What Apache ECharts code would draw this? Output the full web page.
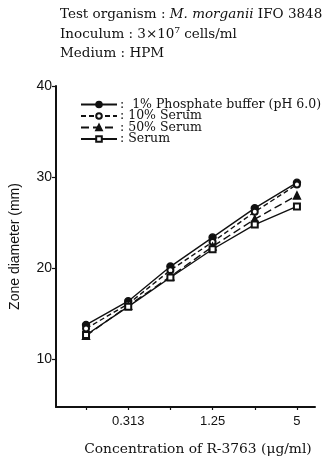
<!DOCTYPE html>
<html>
<head>
<meta charset="utf-8">
<script src="https://cdn.jsdelivr.net/npm/echarts@6/dist/echarts.min.js"></script>
<style>
  html, body { margin: 0; padding: 0; background: #fff; }
  #chart { width: 333px; height: 461px; }
</style>
</head>
<body>
<div id="chart"></div>
<script>
// Two-fold dilution series of R-3763 (μg/ml)
const concentrations = [0.15625, 0.3125, 0.625, 1.25, 2.5, 5];
const labeledConcentrations = [0.3125, 1.25, 5];
const tickLabels = ['0.313', '1.25', '5'];

// Zone diameters (mm) for each medium supplement
const phosphateBuffer = [13.8, 16.4, 20.2, 23.4, 26.6, 29.4];
const serum10 = [13.4, 16.1, 19.8, 22.9, 26.2, 29.2];
const serum50 = [12.6, 15.9, 19.1, 22.4, 25.4, 28.0];
const serumOnly = [12.7, 15.8, 19.0, 22.1, 24.8, 26.8];

const seriesNames = ['1% Phosphate buffer (pH 6.0)', '10% Serum', '50% Serum', 'Serum'];
const legendLabels = [':  1% Phosphate buffer (pH 6.0)', ': 10% Serum', ': 50% Serum', ': Serum'];
const yTicks = [10, 20, 30, 40];

const serif = '"DejaVu Serif", "Liberation Serif", serif';
const sans = '"Liberation Sans", "DejaVu Sans", sans-serif';
const ink = '#111';

// x is plotted on a log2 scale
const lx = c => Math.log2(c);
const pairs = ys => concentrations.map((c, i) => [lx(c), ys[i]]);

function line(name, ys, symbol, dash, size) {
  return {
    name: name,
    type: 'line',
    data: pairs(ys),
    symbol: symbol,
    symbolSize: size,
    showAllSymbol: true,
    lineStyle: { color: ink, width: 1.4, type: dash },
    itemStyle: { color: ink, borderColor: ink, borderWidth: 1.4 },
    emphasis: { disabled: true },
    z: 3
  };
}

const chart = echarts.init(document.getElementById('chart'));
chart.setOption({
  animation: false,
  backgroundColor: '#fff',
  title: [
    {
      text: '{a|Test organism : }{i|M. morganii}{a| IFO 3848}',
      left: 55, top: 2,
      textStyle: {
        rich: {
          a: { fontFamily: serif, fontSize: 13.5, fontWeight: 'normal', color: ink },
          i: { fontFamily: serif, fontSize: 13.5, fontWeight: 'normal', fontStyle: 'italic', color: ink }
        }
      }
    },
    {
      text: 'Inoculum : 3×10⁷ cells/ml',
      left: 55, top: 22,
      textStyle: { fontFamily: serif, fontSize: 13.5, fontWeight: 'normal', color: ink }
    },
    {
      text: 'Medium : HPM',
      left: 55, top: 41,
      textStyle: { fontFamily: serif, fontSize: 13.5, fontWeight: 'normal', color: ink }
    }
  ],
  legend: {
    orient: 'vertical',
    left: 80, top: 98,
    itemWidth: 36, itemHeight: 7, itemGap: -1.5,
    padding: 0,
    selectedMode: false,
    data: seriesNames,
    formatter: name => legendLabels[seriesNames.indexOf(name)],
    textStyle: { fontFamily: serif, fontSize: 12.5, color: ink, padding: [0, 0, 0, -2], lineHeight: 11.5 }
  },
  grid: { left: 54, right: 18, top: 86, bottom: 50, containLabel: false },
  xAxis: {
    type: 'value',
    min: -3.39, max: 2.75,
    name: 'Concentration of R-3763 (μg/ml)',
    nameLocation: 'middle',
    nameGap: 35,
    nameTextStyle: { fontFamily: serif, fontSize: 13.8, color: ink, padding: [0, 0, 0, 25] },
    axisLine: { onZero: false, lineStyle: { color: ink, width: 2 } },
    axisTick: { customValues: concentrations.map(lx), length: 3, lineStyle: { color: ink, width: 1.2 } },
    axisLabel: {
      customValues: labeledConcentrations.map(lx),
      formatter: v => {
        const i = labeledConcentrations.findIndex(c => Math.abs(lx(c) - v) < 1e-6);
        return i >= 0 ? tickLabels[i] : '';
      },
      fontFamily: sans, fontSize: 13, color: ink, margin: 8
    },
    splitLine: { show: false }
  },
  yAxis: {
    type: 'value',
    min: 4.8, max: 40,
    name: 'Zone diameter (mm)',
    nameLocation: 'middle',
    nameGap: 34,
    nameTextStyle: { fontFamily: sans, fontSize: 14, color: ink },
    axisLine: { show: true, onZero: false, lineStyle: { color: ink, width: 2 } },
    axisTick: { show: true, customValues: yTicks, length: 4, lineStyle: { color: ink, width: 1.2 } },
    axisLabel: { customValues: yTicks, fontFamily: sans, fontSize: 14, color: ink, margin: 4 },
    splitLine: { show: false }
  },
  series: [
    line(seriesNames[0], phosphateBuffer, 'circle', 'solid', 7),
    line(seriesNames[1], serum10, 'emptyCircle', [5, 3], 6),
    line(seriesNames[2], serum50, 'triangle', [8, 4], 7),
    line(seriesNames[3], serumOnly, 'emptyRect', 'solid', 6)
  ]
});
</script>
</body>
</html>
